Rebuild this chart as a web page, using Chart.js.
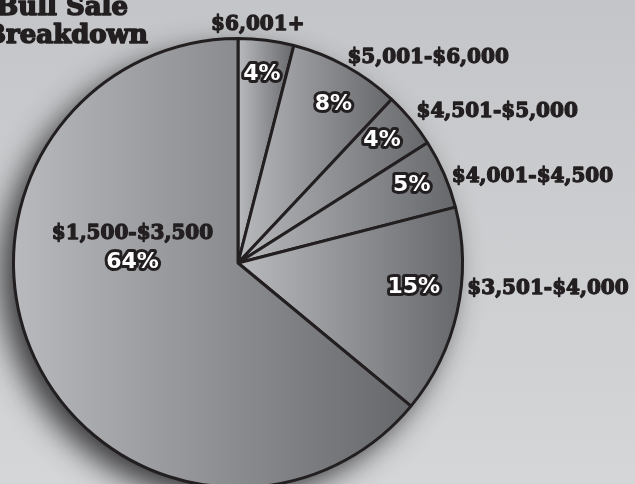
<!DOCTYPE html>
<html>
<head>
<meta charset="utf-8">
<script src="https://cdn.jsdelivr.net/npm/chart.js@4.4.1/dist/chart.umd.min.js"></script>
<style>
  html, body { margin: 0; padding: 0; overflow: hidden; }
  body { width: 635px; height: 484px; background: linear-gradient(to bottom, #c4c5c8, #d5d6d8); }
  canvas { display: block; }
</style>
</head>
<body>
<canvas id="pieChart" width="635" height="500"></canvas>
<script>
const titleLines = ['Bull Sale', 'Breakdown'];
const priceRanges = ['$6,001+', '$5,001-$6,000', '$4,501-$5,000', '$4,001-$4,500', '$3,501-$4,000', '$1,500-$3,500'];
const shares = [4, 8, 4, 5, 15, 64];

// label placement tweaks: [angle offset (deg), radius factor]
const pctSpots = [[0, 0.85], [2, 0.83], [-1, 0.845], [-1, 0.85], [-5, 0.79], [26, 0.47]];
const nameSpots = [[-2.5, 1.075, 'center'], [-1, 1.045, 'left'], [-1, 1.047, 'left'], [1, 1.03, 'left'], [-6.6, 1.027, 'left'], null];

const ink = '#231f20';

// each slice gets its own left-to-right gray gradient
function sliceGradient(context) {
    const chart = context.chart;
    const area = chart.chartArea;
    if (!area) return '#8c8d91';
    const i = context.dataIndex;
    const total = shares.reduce((a, b) => a + b, 0);
    let before = 0;
    for (let k = 0; k < i; k++) before += shares[k];
    const a0 = -Math.PI / 2 + before / total * 2 * Math.PI;
    const a1 = a0 + shares[i] / total * 2 * Math.PI;
    const cx = (area.left + area.right) / 2;
    const r = Math.min(area.width, area.height) / 2;
    const xs = [cx, cx + r * Math.cos(a0), cx + r * Math.cos(a1)];
    [0, Math.PI].forEach(function(a) {
        if (a > a0 && a < a1) xs.push(cx + r * Math.cos(a));
    });
    const g = chart.ctx.createLinearGradient(Math.min.apply(null, xs), 0, Math.max.apply(null, xs), 0);
    g.addColorStop(0, '#b9babe');
    g.addColorStop(1, '#66676b');
    return g;
}

const shadowPlugin = {
    id: 'pieShadow',
    beforeDatasetsDraw(chart) {
        const arc = chart.getDatasetMeta(0).data[0];
        if (!arc) return;
        const ctx = chart.ctx;
        ctx.save();
        ctx.shadowColor = 'rgba(30,30,32,0.85)';
        ctx.shadowBlur = 30;
        ctx.shadowOffsetX = -12;
        ctx.shadowOffsetY = 12;
        ctx.fillStyle = '#6f7074';
        ctx.beginPath();
        ctx.arc(arc.x, arc.y, arc.outerRadius, 0, Math.PI * 2);
        ctx.fill();
        ctx.restore();
    }
};

function spot(arc, degOff, factor) {
    const mid = (arc.startAngle + arc.endAngle) / 2 + degOff * Math.PI / 180;
    const r = arc.outerRadius * factor;
    return { x: arc.x + r * Math.cos(mid), y: arc.y + r * Math.sin(mid) };
}

function outlinedText(ctx, text, x, y) {
    ctx.lineJoin = 'round';
    ctx.lineWidth = 6;
    ctx.strokeStyle = ink;
    ctx.strokeText(text, x, y);
    ctx.fillStyle = '#ffffff';
    ctx.fillText(text, x, y);
}

// faux heavy weight: fill plus a thin stroke in the same colour
function heavyText(ctx, text, x, y, w) {
    ctx.lineJoin = 'round';
    ctx.lineWidth = w;
    ctx.strokeStyle = ink;
    ctx.fillStyle = ink;
    ctx.strokeText(text, x, y);
    ctx.fillText(text, x, y);
}

const labelPlugin = {
    id: 'sliceLabels',
    afterDatasetsDraw(chart) {
        const ctx = chart.ctx;
        const arcs = chart.getDatasetMeta(0).data;
        ctx.save();
        ctx.textBaseline = 'middle';
        arcs.forEach(function(arc, i) {
            const p = spot(arc, pctSpots[i][0], pctSpots[i][1]);
            ctx.font = 'bold 22px "DejaVu Sans"';
            ctx.textAlign = 'center';
            outlinedText(ctx, shares[i] + '%', p.x, p.y + 1);

            ctx.font = 'bold 20px "DejaVu Serif"';
            const ns = nameSpots[i];
            if (ns) {
                const q = spot(arc, ns[0], ns[1]);
                ctx.textAlign = ns[2];
                heavyText(ctx, priceRanges[i], q.x, q.y + 2, 1.3);
            } else {
                ctx.textAlign = 'center';
                heavyText(ctx, priceRanges[i], p.x, p.y - 28, 1.3);
            }
        });

        // title, cut off at the left edge like the source
        ctx.font = 'bold 26px "DejaVu Serif"';
        ctx.textAlign = 'right';
        ctx.textBaseline = 'alphabetic';
        heavyText(ctx, titleLines[0], 128, 15, 1.6);
        heavyText(ctx, titleLines[1], 148, 43, 1.6);
        ctx.restore();
    }
};

const pieChart = new Chart(document.getElementById('pieChart').getContext('2d'), {
    type: 'pie',
    data: {
        labels: priceRanges,
        datasets: [{
            data: shares,
            backgroundColor: sliceGradient,
            borderColor: ink,
            borderWidth: 3,
            hoverOffset: 0
        }]
    },
    options: {
        responsive: false,
        animation: false,
        layout: { padding: { left: 12, top: 37, right: 171, bottom: 11 } },
        plugins: {
            legend: { display: false },
            tooltip: { enabled: false },
            title: { display: false }
        }
    },
    plugins: [shadowPlugin, labelPlugin]
});
</script>
</body>
</html>
